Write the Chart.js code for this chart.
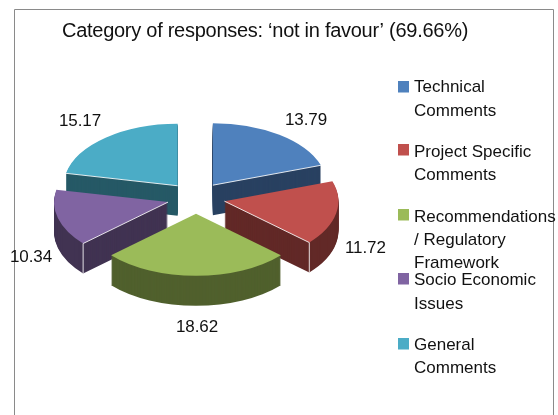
<!DOCTYPE html>
<html><head><meta charset="utf-8">
<style>html,body{margin:0;padding:0;background:#fff;overflow:hidden}canvas{display:block}</style>
<script src="https://cdn.jsdelivr.net/npm/chart.js@4/dist/chart.umd.min.js"></script>
</head><body>
<canvas id="c" width="558" height="415"></canvas>
<script>
const titleText = 'Category of responses: ‘not in favour’ (69.66%)';
const categories = [
  ['Technical','Comments'],
  ['Project Specific','Comments'],
  ['Recommendations','/ Regulatory','Framework'],
  ['Socio Economic','Issues'],
  ['General','Comments']
];
const values = [13.79, 11.72, 18.62, 10.34, 15.17];
const valueLabels = ['13.79','11.72','18.62','10.34','15.17'];
const topColors = ['#4F81BD','#C0504D','#9BBB59','#8064A2','#4BACC6'];
const sideColors = ['#294161','#622927','#50602D','#413352','#265966'];

const FONT = '"Liberation Sans", Arial, sans-serif';
const SQUASH = 0.544, DEPTH = 30, EXPLODE = 29, ORIGIN = {x:196, y:198};
const paintOrder = [4,0,3,1,2];
const edgeLine = {0:'end', 1:'end', 3:'start', 4:'start'};
const labelPos = [[285,125],[345,253],[176,332],[10,262],[59,126]];
const swatchTop = [81,144,209,273,338];
const legendBaselines = [[92,116],[157,180],[222,245,268],[285,309],[350,373]];

const pie3d = {
  id:'pie3d',
  beforeDraw(chart){
    const c = chart.ctx;
    c.letterSpacing = '-0.27px';
    c.save();
    c.strokeStyle = '#8a8a8a'; c.lineWidth = 1;
    c.beginPath(); c.moveTo(14.5,415); c.lineTo(14.5,9.5); c.lineTo(553.5,9.5); c.lineTo(553.5,415); c.stroke();
    c.restore();
  },
  beforeDatasetDraw(chart, args){
    const c = chart.ctx, arcs = args.meta.data;
    const place = (arc, d) => {
      const mid = (arc.startAngle + arc.endAngle) / 2;
      c.translate(ORIGIN.x, ORIGIN.y + d);
      c.scale(1, SQUASH);
      c.translate(Math.cos(mid) * EXPLODE - arc.x, Math.sin(mid) * EXPLODE - arc.y);
    };
    paintOrder.forEach(i => {
      const arc = arcs[i], saved = arc.options;
      arc.options = Object.assign({}, saved, {backgroundColor: sideColors[i], borderWidth: 0});
      for (let d = DEPTH; d >= 1; d--) { c.save(); place(arc, d); arc.draw(c); c.restore(); }
      arc.options = saved;
      c.save(); place(arc, 0); arc.draw(c); c.restore();

      const which = edgeLine[i];
      if (which) {
        const mid = (arc.startAngle + arc.endAngle) / 2;
        const R = arc.outerRadius, a = which === 'end' ? arc.endAngle : arc.startAngle;
        const X = ORIGIN.x + Math.cos(mid) * EXPLODE, Y = ORIGIN.y + Math.sin(mid) * EXPLODE * SQUASH;
        const rx = X + R * Math.cos(a), ry = Y + R * SQUASH * Math.sin(a);
        c.save(); c.strokeStyle = 'rgba(255,255,255,0.85)'; c.lineWidth = 1;
        c.beginPath(); c.moveTo(X, Y); c.lineTo(rx, ry);
        if (i === 1 || i === 3) c.lineTo(rx, ry + DEPTH);
        c.stroke(); c.restore();
      }
    });
    return false;
  },
  afterDraw(chart){
    const c = chart.ctx;
    c.save();
    c.fillStyle = '#111'; c.textAlign = 'left'; c.textBaseline = 'alphabetic';
    c.font = '17px ' + FONT; c.letterSpacing = '-0.1px';
    valueLabels.forEach((t,i) => c.fillText(t, labelPos[i][0], labelPos[i][1]));
    c.font = '17px ' + FONT; c.letterSpacing = '0px';
    categories.forEach((lines,i) => {
      c.fillStyle = topColors[i];
      c.fillRect(398, swatchTop[i], 11, 11.5);
      c.fillStyle = '#111';
      lines.forEach((t,j) => c.fillText(t, 414, legendBaselines[i][j]));
    });
    c.restore();
  }
};

new Chart(document.getElementById('c'), {
  type:'pie',
  data:{ labels: categories.map(l => l.join(' ')),
    datasets:[{ data: values, backgroundColor: topColors, borderWidth:0 }] },
  options:{
    responsive:false, animation:false, radius:114,
    layout:{padding:{left:62,top:19,right:0,bottom:0}},
    plugins:{
      legend:{display:false}, tooltip:{enabled:false},
      title:{display:true, text:titleText, align:'start', color:'#111',
        font:{family:FONT, size:20, weight:'normal'}, padding:{top:0,bottom:0}}
    }
  },
  plugins:[pie3d]
});
</script>
</body></html>
